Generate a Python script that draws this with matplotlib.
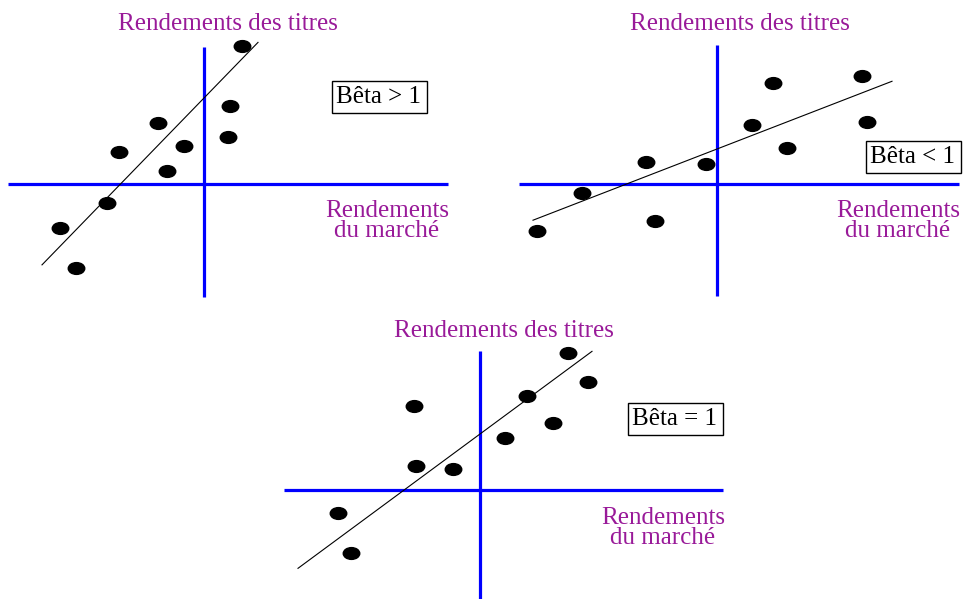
import numpy as np
import matplotlib.pyplot as plt
from matplotlib.markers import MarkerStyle
from matplotlib.transforms import Affine2D

# returns of the stock (y) vs the market (x), one set per panel
x_hi = [38, 26, 24, -46, -20, -85, -37, -97, -144, -128]
y_hi = [138, 78, 47, 61, 38, 32, 13, -19, -44, -84]
x_lo = [145, 56, 35, 150, 70, -71, -11, -135, -62, -180]
y_lo = [108, 101, 59, 62, 36, 22, 20, -9, -37, -47]
x_eq = [88, 108, 47, -66, 73, 25, -64, -27, -142, -129]
y_eq = [137, 108, 94, 84, 67, 52, 24, 21, -23, -63]

# fitted line: intercept, slope, x start, x end
fit_hi = [86, 1.03, -162, 54]
fit_lo = [35, 0.387, -184, 175]
fit_eq = [56, 0.738, -182, 112]

labels = ["Bêta > 1", "Bêta < 1", "Bêta = 1"]

PURPLE = "#991a99"
BLUE = "#0000ff"
FONT = "Liberation Serif"
FS = 18

dot = MarkerStyle("o", transform=Affine2D().scale(1.4, 1.0))


def panel(fig, box, origin, xs, ys, fit, label, hline, vline, lab_pos, box_pos):
    W, H = 968, 599
    left, top, w, h = box
    ox, oy = origin
    ax = fig.add_axes([left / W, 1 - (top + h) / H, w / W, h / H])
    ax.set_xlim(left - ox, left + w - ox)
    ax.set_ylim(oy - (top + h), oy - top)
    ax.axis("off")

    ax.plot(hline, [0, 0], color=BLUE, lw=2.3, solid_capstyle="butt")
    ax.plot([0, 0], vline, color=BLUE, lw=2.3, solid_capstyle="butt")

    a, b, x0, x1 = fit
    fx = np.array([x0, x1])
    ax.plot(fx, a + b * fx, color="black", lw=0.8)

    ax.scatter(xs, ys, marker=dot, s=72, color="black", zorder=3)

    ax.text(lab_pos[0][0], lab_pos[0][1], "Rendements des titres", color=PURPLE,
            fontsize=FS, family=FONT, ha="center", va="center")
    ax.text(lab_pos[1][0], lab_pos[1][1], "Rendements\ndu marché", color=PURPLE,
            fontsize=FS, family=FONT, ha="center", va="center", linespacing=0.85)
    ax.text(box_pos[0], box_pos[1], label, fontsize=FS, family=FONT,
            ha="center", va="center",
            bbox=dict(boxstyle="square,pad=0.2", fc="white", ec="black", lw=1))
    return ax


fig = plt.figure(figsize=(9.68, 5.99), dpi=100)

panel(fig, (0, 0, 460, 300), (204, 184), x_hi, y_hi, fit_hi, labels[0],
      [-196, 244], [-113, 137], [(24, 160), (183, -37)], (175, 87))
panel(fig, (500, 0, 468, 300), (717, 184), x_lo, y_lo, fit_lo, labels[1],
      [-198, 242], [-112, 139], [(23, 160), (181, -37)], (196, 27))
panel(fig, (280, 310, 460, 289), (480, 490), x_eq, y_eq, fit_eq, labels[2],
      [-196, 243], [-109, 139], [(24, 159), (183, -38)], (195, 71))

fig.savefig("out.png", dpi=100)
